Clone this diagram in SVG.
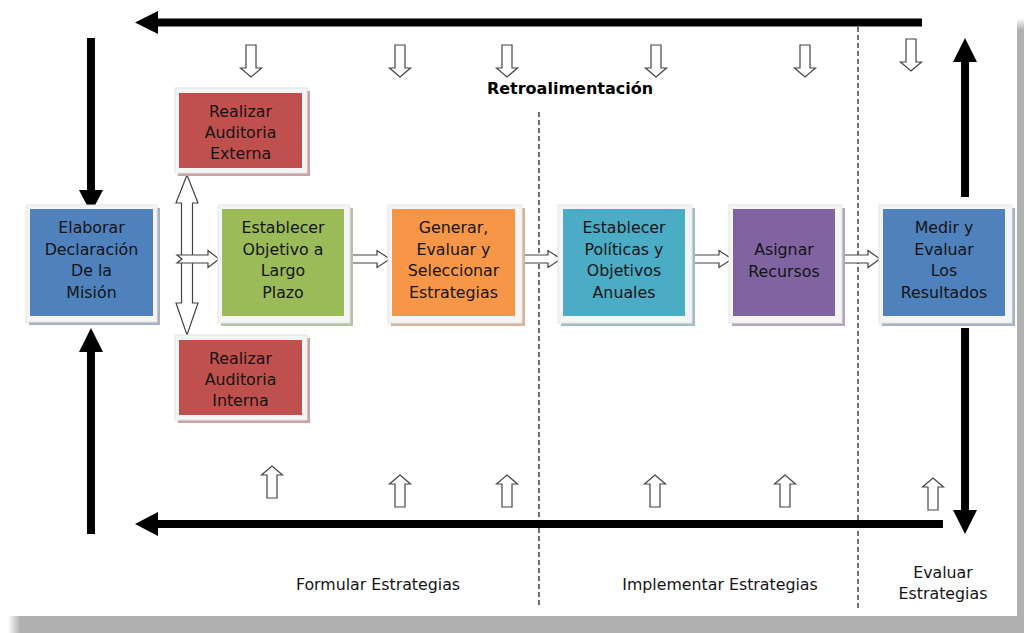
<svg xmlns="http://www.w3.org/2000/svg" xmlns:xlink="http://www.w3.org/1999/xlink" width="1024" height="633" viewBox="0 0 1024 633">
<style>
.t{font-family:"DejaVu Sans","Liberation Sans",sans-serif;font-size:15.8px;fill:#141414;text-anchor:middle}
.b{font-family:"DejaVu Sans","Liberation Sans",sans-serif;font-size:16px;font-weight:bold;fill:#000;text-anchor:middle}
.frame{fill:#f5f5f5;stroke:#e4e4e4;stroke-width:1}
.hollow{fill:#fff;stroke:#444;stroke-width:1.2;stroke-linejoin:miter}
.bar{stroke:#000;stroke-width:8;fill:none}
.head{fill:#000}
.dash{stroke:#333;stroke-width:1.4;stroke-dasharray:5 3;fill:none}
</style>
<defs>
<linearGradient id="gb" x1="0" y1="0" x2="1" y2="0">
<stop offset="0" stop-color="#b0b0b0" stop-opacity="0"/>
<stop offset="0.012" stop-color="#b0b0b0" stop-opacity="1"/>
<stop offset="1" stop-color="#b0b0b0"/>
</linearGradient>
<linearGradient id="gr" x1="0" y1="0" x2="0" y2="1">
<stop offset="0" stop-color="#b0b0b0" stop-opacity="0"/>
<stop offset="0.02" stop-color="#b0b0b0" stop-opacity="1"/>
<stop offset="1" stop-color="#b0b0b0"/>
</linearGradient>
<path id="dn" class="hollow" d="M-5,0 H5 V23 H10.5 L0,32 L-10.5,23 H-5 Z"/>
<path id="up" class="hollow" d="M-5,0 H5 V-23 H10.5 L0,-32 L-10.5,-23 H-5 Z"/>
</defs>
<rect x="0" y="0" width="1024" height="633" fill="#fff"/>
<rect x="8" y="616" width="1016" height="17" fill="url(#gb)"/>
<rect x="1017" y="18" width="7" height="600" fill="url(#gr)"/>

<g id="dividers">
<line class="dash" x1="539" y1="112" x2="539" y2="608"/>
<line class="dash" x1="858" y1="27" x2="858" y2="608"/>
</g>

<g id="connectors">
<line class="bar" x1="156" y1="22.5" x2="922" y2="22.5"/>
<polygon class="head" points="135,22.5 158,11 158,34"/>
<line class="bar" x1="91" y1="38" x2="91" y2="192"/>
<polygon class="head" points="79,190 103,190 91,213"/>
<line class="bar" x1="91" y1="350" x2="91" y2="534"/>
<polygon class="head" points="79,352 103,352 91,328"/>
<line class="bar" x1="156" y1="524" x2="943" y2="524"/>
<polygon class="head" points="135,524 158,512 158,536"/>
<line class="bar" x1="965" y1="60" x2="965" y2="197"/>
<polygon class="head" points="953,62 977,62 965,38"/>
<line class="bar" x1="965" y1="328" x2="965" y2="512"/>
<polygon class="head" points="953,510 977,510 965,534"/>

<use xlink:href="#dn" href="#dn" x="251" y="45"/>
<use xlink:href="#dn" href="#dn" x="400" y="45"/>
<use xlink:href="#dn" href="#dn" x="507" y="45"/>
<use xlink:href="#dn" href="#dn" x="656" y="45"/>
<use xlink:href="#dn" href="#dn" x="805" y="45"/>
<use xlink:href="#dn" href="#dn" x="911" y="39"/>

<use xlink:href="#up" href="#up" x="272" y="498"/>
<use xlink:href="#up" href="#up" x="400" y="507"/>
<use xlink:href="#up" href="#up" x="507" y="507"/>
<use xlink:href="#up" href="#up" x="655" y="507"/>
<use xlink:href="#up" href="#up" x="785" y="507"/>
<use xlink:href="#up" href="#up" x="933" y="510"/>

<path class="hollow" d="M187,175 L198,203 H192.5 V303 H198 L187,335 L176,303 H181.5 V203 H176 Z"/>
<path class="hollow" d="M177,255 H208 V250.5 L219,259 L208,267.5 V263 H177 L182,259 Z"/>
<path class="hollow" d="M347,255 H377 V250.5 L390,259 L377,267.5 V263 H347 L352,259 Z"/>
<path class="hollow" d="M517,255 H548 V250.5 L561,259 L548,267.5 V263 H517 L522,259 Z"/>
<path class="hollow" d="M687,255 H719 V250.5 L732,259 L719,267.5 V263 H687 L692,259 Z"/>
<path class="hollow" d="M837,255 H868 V250.5 L880,259 L868,267.5 V263 H837 L842,259 Z"/>
</g>

<g id="mision">
<rect x="29" y="208" width="131" height="117" fill="#a7b3c4"/>
<rect class="frame" x="26" y="205" width="131" height="117"/>
<rect x="30" y="209" width="123" height="107" fill="#4f81bd"/>
<text class="t" x="91.5" y="233">Elaborar</text>
<text class="t" x="91.5" y="255">Declaración</text>
<text class="t" x="91.5" y="276">De la</text>
<text class="t" x="91.5" y="298">Misión</text>
</g>

<g id="externa">
<rect x="178" y="91" width="132" height="85" fill="#c9a2a1"/>
<rect class="frame" x="175" y="88" width="132" height="85"/>
<rect x="179" y="93" width="123" height="75" fill="#c0504d"/>
<text class="t" x="240.5" y="117">Realizar</text>
<text class="t" x="240.5" y="138">Auditoria</text>
<text class="t" x="240.5" y="159">Externa</text>
</g>

<g id="objetivo">
<rect x="221" y="208" width="132" height="118" fill="#b7c2a5"/>
<rect class="frame" x="218" y="205" width="132" height="118"/>
<rect x="222" y="209" width="122" height="107" fill="#9bbb59"/>
<text class="t" x="283" y="233">Establecer</text>
<text class="t" x="283" y="255">Objetivo a</text>
<text class="t" x="283" y="276">Largo</text>
<text class="t" x="283" y="298">Plazo</text>
</g>

<g id="interna">
<rect x="178" y="338" width="132" height="85" fill="#c9a2a1"/>
<rect class="frame" x="175" y="335" width="132" height="85"/>
<rect x="179" y="340" width="123" height="75" fill="#c0504d"/>
<text class="t" x="240.5" y="364">Realizar</text>
<text class="t" x="240.5" y="385">Auditoria</text>
<text class="t" x="240.5" y="406">Interna</text>
</g>

<g id="generar">
<rect x="391" y="208" width="134" height="118" fill="#d6b49c"/>
<rect class="frame" x="388" y="205" width="134" height="118"/>
<rect x="392" y="209" width="123" height="107" fill="#f79646"/>
<text class="t" x="453.5" y="233">Generar,</text>
<text class="t" x="453.5" y="255">Evaluar y</text>
<text class="t" x="453.5" y="276">Seleccionar</text>
<text class="t" x="453.5" y="298">Estrategias</text>
</g>

<g id="politicas">
<rect x="561" y="208" width="134" height="118" fill="#a3bcc4"/>
<rect class="frame" x="558" y="205" width="134" height="118"/>
<rect x="563" y="209" width="122" height="107" fill="#4bacc6"/>
<text class="t" x="624" y="233">Establecer</text>
<text class="t" x="624" y="255">Políticas y</text>
<text class="t" x="624" y="276">Objetivos</text>
<text class="t" x="624" y="298">Anuales</text>
</g>

<g id="recursos">
<rect x="732" y="208" width="113" height="118" fill="#b1a7bd"/>
<rect class="frame" x="729" y="205" width="113" height="118"/>
<rect x="733" y="209" width="102" height="107" fill="#8064a2"/>
<text class="t" x="784" y="255">Asignar</text>
<text class="t" x="784" y="277">Recursos</text>
</g>

<g id="medir">
<rect x="882" y="208" width="133" height="118" fill="#a7b3c4"/>
<rect class="frame" x="879" y="205" width="133" height="118"/>
<rect x="883" y="209" width="122" height="107" fill="#4f81bd"/>
<text class="t" x="944" y="233">Medir y</text>
<text class="t" x="944" y="255">Evaluar</text>
<text class="t" x="944" y="276">Los</text>
<text class="t" x="944" y="298">Resultados</text>
</g>

<g id="labels">
<text class="b" x="570" y="94">Retroalimentación</text>
<text class="t" x="378" y="590">Formular Estrategias</text>
<text class="t" x="720" y="590">Implementar Estrategias</text>
<text class="t" x="943" y="578">Evaluar</text>
<text class="t" x="943" y="599">Estrategias</text>
</g>
</svg>
